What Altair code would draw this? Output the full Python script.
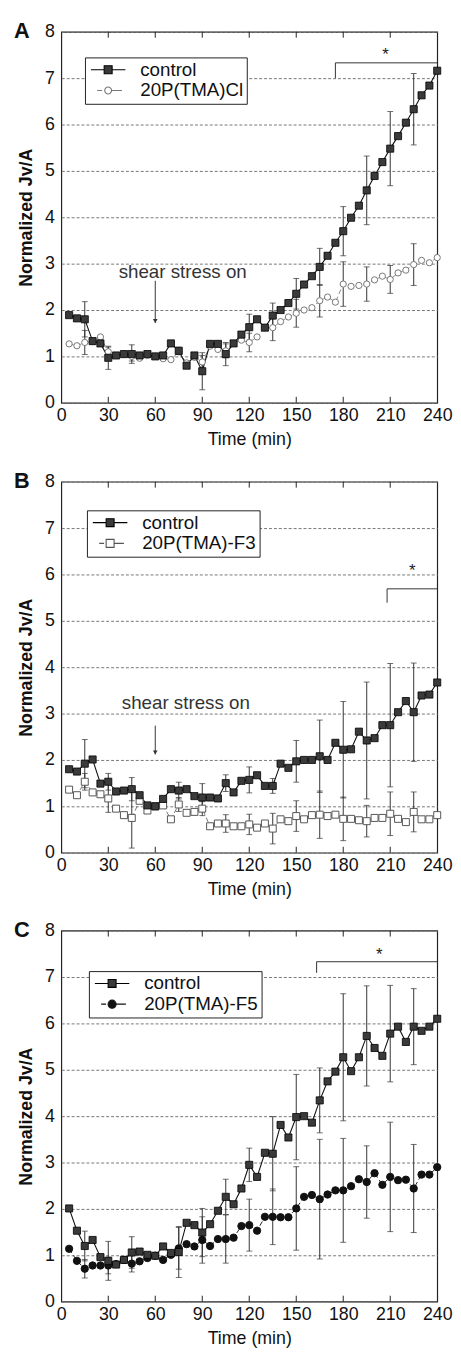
import altair as alt
import pandas as pd

FONT = "Liberation Sans"

time_min = [5, 10, 15, 20, 25, 30, 35, 40, 45, 50, 55, 60, 65, 70, 75, 80,
            85, 90, 95, 100, 105, 110, 115, 120, 125, 130, 135, 140, 145, 150,
            155, 160, 165, 170, 175, 180, 185, 190, 195, 200, 205, 210, 215,
            220, 225, 230, 235, 240]
err_time = [15, 30, 45, 75, 90, 105, 120, 135, 150, 165, 180, 195, 210, 225]
x_ticks = [0, 30, 60, 90, 120, 150, 180, 210, 240]
inner_ticks = [30, 60, 90, 120, 150, 180, 210]
y_ticks = [0, 1, 2, 3, 4, 5, 6, 7, 8]

# Panel A
ctrl_A = [1.89, 1.82, 1.8, 1.33, 1.28, 0.97, 1.02, 1.05, 1.05, 1.02, 1.05, 1.0,
          1.02, 1.28, 1.12, 0.8, 1.02, 0.68, 1.27, 1.27, 1.05, 1.28, 1.47, 1.63,
          1.8, 1.62, 1.88, 2.0, 2.15, 2.35, 2.55, 2.73, 2.93, 3.17, 3.45, 3.7,
          3.99, 4.25, 4.58, 4.89, 5.19, 5.48, 5.75, 6.04, 6.33, 6.63, 6.84, 7.16]
trt_A = [1.27, 1.23, 1.3, 1.32, 1.42, 1.1, 1.02, 1.05, 1.0, 0.96, 1.02, 1.0,
         0.95, 0.93, 1.1, 0.86, 0.98, 0.88, 1.22, 1.15, 1.12, 1.28, 1.35, 1.3,
         1.42, 1.62, 1.62, 1.75, 1.85, 1.93, 2.0, 2.05, 2.2, 2.28, 2.17, 2.56,
         2.51, 2.53, 2.56, 2.65, 2.73, 2.66, 2.8, 2.86, 2.98, 3.07, 3.02, 3.13]
ctrl_err_A = [0.38, 0.25, 0.2, 0.08, 0.4, 0.25, 0.28, 0.27, 0.33, 0.4, 0.53, 0.74, 0.8, 0.77]
trt_err_A = [0.26, 0.1, 0.1, 0.06, 0.14, 0.15, 0.2, 0.28, 0.3, 0.35, 0.48, 0.37, 0.3, 0.45]

# Panel B
ctrl_B = [1.80, 1.75, 1.92, 2.01, 1.49, 1.53, 1.32, 1.34, 1.37, 1.24, 1.02, 1.0,
          1.16, 1.37, 1.34, 1.37, 1.22, 1.19, 1.19, 1.17, 1.5, 1.3, 1.55, 1.57,
          1.67, 1.44, 1.44, 1.92, 1.83, 1.97, 2.0, 2.0, 2.08, 2.0, 2.37, 2.22,
          2.23, 2.61, 2.42, 2.47, 2.75, 2.75, 3.03, 3.27, 3.03, 3.39, 3.41, 3.67]
trt_B = [1.36, 1.24, 1.53, 1.3, 1.26, 1.17, 0.95, 0.81, 0.75, 1.12, 0.91, 1.0,
         1.02, 0.72, 1.04, 0.86, 0.88, 0.95, 0.57, 0.63, 0.63, 0.57, 0.57, 0.61,
         0.54, 0.63, 0.52, 0.72, 0.68, 0.79, 0.72, 0.81, 0.82, 0.79, 0.82, 0.73,
         0.73, 0.7, 0.68, 0.75, 0.75, 0.84, 0.73, 0.66, 0.88, 0.72, 0.72, 0.81]
ctrl_err_B = [0.52, 0.18, 0.25, 0.18, 0.3, 0.18, 0.28, 0.16, 0.45, 0.78, 1.04, 1.26, 1.33, 1.06]
trt_err_B = [0.18, 0.3, 0.65, 0.15, 0.15, 0.19, 0.22, 0.33, 0.33, 0.51, 0.47, 0.34, 0.47, 0.43]

# Panel C
ctrl_C = [2.01, 1.53, 1.2, 1.33, 0.96, 0.88, 0.8, 0.9, 1.06, 1.08, 1.01, 0.99,
          1.19, 1.05, 1.07, 1.7, 1.65, 1.49, 1.67, 1.96, 2.26, 2.1, 2.44, 2.95,
          2.69, 3.21, 3.19, 3.81, 3.54, 3.98, 4.0, 3.86, 4.34, 4.75, 4.96, 5.27,
          4.97, 5.27, 5.73, 5.47, 5.3, 5.78, 5.93, 5.6, 5.93, 5.84, 5.93, 6.1]
trt_C = [1.14, 0.88, 0.71, 0.78, 0.78, 0.78, 0.81, 0.9, 0.82, 0.87, 0.94, 0.99,
         0.9, 1.01, 1.15, 1.24, 1.19, 1.33, 1.2, 1.35, 1.35, 1.38, 1.63, 1.65,
         1.53, 1.83, 1.83, 1.82, 1.82, 2.01, 2.26, 2.3, 2.21, 2.31, 2.4, 2.4,
         2.49, 2.64, 2.58, 2.77, 2.52, 2.69, 2.62, 2.63, 2.44, 2.74, 2.74, 2.9]
ctrl_err_C = [0.32, 0.42, 0.34, 0.55, 0.52, 0.38, 0.36, 0.8, 0.92, 0.7, 1.37, 1.08, 1.04, 0.82]
trt_err_C = [0.2, 0.18, 0.18, 0.45, 0.5, 0.52, 0.56, 0.6, 0.9, 1.29, 1.12, 0.78, 1.18, 0.95]

# annotations (data coordinates)
bracket_A = {"t": [175, 175, 240], "v": [7.0, 7.33, 7.33]}
bracket_B = {"t": [208, 208, 240], "v": [5.39, 5.69, 5.69]}
bracket_C = {"t": [163, 163, 240], "v": [7.09, 7.33, 7.33]}
star_A = {"t": [207], "v": [7.5]}
star_B = {"t": [224], "v": [6.07]}
star_C = {"t": [203], "v": [7.48]}
shear_A = {"t": [77.5], "v": [2.82], "top": [2.63], "tip": [1.72]}
shear_B = {"t": [79.5], "v": [3.23], "top": [2.74], "tip": [2.12]}

W, H = 381, 376

ctrl_path = "M-3,0H-0.69M0.69,0H3M-0.69,-0.69H0.69V0.69H-0.69Z"
circ_path_A = "M-1.9,0H-1.05M-0.6,0A0.6,0.6,0,1,1,0.6,0A0.6,0.6,0,1,1,-0.6,0ZM0.6,0H2.4"
circ_path_C = "M-1.9,0H-1.05M-0.7,0A0.7,0.7,0,1,1,0.7,0A0.7,0.7,0,1,1,-0.7,0ZM0.7,0H2.4"
sq_path = "M-1.9,0H-1.05M-0.69,-0.69H0.69V0.69H-0.69ZM0.69,0H2.4"
LEG_SIZE = 136

xs = alt.Scale(domain=[0, 240], nice=False)
ys = alt.Scale(domain=[0, 8], nice=False)
xaxis = alt.Axis(values=x_ticks, title="Time (min)", grid=False, ticks=False,
                 domain=False, labelPadding=4, titlePadding=6, labelFlush=False)
yaxis = alt.Axis(values=y_ticks, title="Normalized Jv/A", grid=True, ticks=False,
                 domain=False, labelPadding=7, titlePadding=9, labelFlush=False,
                 titleFontWeight="bold", gridDash=[3, 2], gridColor="#777",
                 gridWidth=1)


def X(field="t"):
    return alt.X(f"{field}:Q", scale=xs, axis=xaxis)


def Y(field="v"):
    return alt.Y(f"{field}:Q", scale=ys, axis=yaxis)


def make_panel(letter, trt_name, ctrl, trt, ctrl_err, trt_err, style,
               bracket, star, shear, leg_xy):
    idx = {t: i for i, t in enumerate(time_min)}
    ctrl_df = pd.DataFrame({"t": time_min, "v": ctrl})
    trt_df = pd.DataFrame({"t": time_min, "v": trt})

    rows, caps = [], []
    for vals, errs in ((ctrl, ctrl_err), (trt, trt_err)):
        for t, e in zip(err_time, errs):
            m = vals[idx[t]]
            rows.append({"t": t, "lo": m - e, "hi": m + e})
            caps.append({"t": t, "v": m - e})
            caps.append({"t": t, "v": m + e})
    err_df = pd.DataFrame(rows)
    cap_df = pd.DataFrame(caps)

    layers = []
    layers.append(alt.Chart(err_df).mark_rule(color="#333", strokeWidth=1).encode(
        x=X(), y=Y("lo"), y2="hi:Q"))
    layers.append(alt.Chart(cap_df).mark_tick(orient="horizontal", color="#333",
                                              size=6, thickness=1).encode(x=X(), y=Y()))
    layers.append(alt.Chart(trt_df).mark_line(color=style["line"], strokeWidth=1,
                                              strokeDash=[5, 3]).encode(x=X(), y=Y()))
    layers.append(alt.Chart(ctrl_df).mark_line(color="#111", strokeWidth=1.1).encode(
        x=X(), y=Y()))
    layers.append(alt.Chart(trt_df).mark_point(
        shape=style["shape"], size=style["size"], filled=True, fill=style["fill"],
        stroke=style["stroke"], strokeWidth=1, opacity=1).encode(x=X(), y=Y()))
    layers.append(alt.Chart(ctrl_df).mark_point(
        shape="square", size=52, filled=True, fill="#3a3a3a", stroke="#000",
        strokeWidth=0.8, opacity=1).encode(x=X(), y=Y()))

    br = pd.DataFrame(bracket)
    br["i"] = list(range(len(br)))
    layers.append(alt.Chart(br).mark_line(color="#333", strokeWidth=1).encode(
        x=X(), y=Y(), order="i:Q"))
    layers.append(alt.Chart(pd.DataFrame(star)).mark_text(
        text="*", fontSize=17, font=FONT, color="#222", baseline="middle").encode(
        x=X(), y=Y()))

    if shear is not None:
        sh = pd.DataFrame(shear)
        layers.append(alt.Chart(sh).mark_text(
            text="shear stress on", fontSize=19, font=FONT, color="#333",
            baseline="middle", align="center").encode(x=X(), y=Y()))
        arr = pd.DataFrame({"t": [60], "top": shear["top"], "tip": shear["tip"]})
        layers.append(alt.Chart(arr).mark_rule(color="#333", strokeWidth=1).encode(
            x=X(), y=Y("top"), y2="tip:Q"))
        layers.append(alt.Chart(arr).mark_point(
            shape="triangle-down", size=22, filled=True, color="#333",
            opacity=1, yOffset=-2).encode(x=X(), y=Y("tip")))

    tk = pd.DataFrame({"t": inner_ticks})
    layers.append(alt.Chart(tk).mark_rule(color="#222").encode(
        x=X(), y=alt.value(H), y2=alt.value(H - 6)))
    layers.append(alt.Chart(tk).mark_rule(color="#222").encode(
        x=X(), y=alt.value(0), y2=alt.value(6)))

    names = ["control", trt_name]
    leg_df = pd.DataFrame({"series": names})
    legend = alt.Legend(
        title=None, orient="none", legendX=leg_xy[0], legendY=leg_xy[1],
        direction="vertical", labelFontSize=19, labelFont=FONT,
        labelColor="#111", symbolSize=LEG_SIZE, symbolStrokeWidth=1.1,
        symbolOpacity=1, strokeColor="#222", fillColor="white", padding=3,
        symbolOffset=11, labelOffset=23, rowPadding=1,
        labelExpr="datum.label == 'control' ? '\u00a0control' : datum.label")
    layers.append(alt.Chart(leg_df).mark_point(size=LEG_SIZE, opacity=0).encode(
        shape=alt.Shape("series:N", scale=alt.Scale(domain=names, range=[ctrl_path, style["path"]]), legend=legend),
        fill=alt.Fill("series:N", scale=alt.Scale(domain=names, range=["#3a3a3a", style["fill"]]), legend=legend),
        stroke=alt.Stroke("series:N", scale=alt.Scale(domain=names, range=["#000", style["stroke"]]), legend=legend),
    ))

    return alt.layer(*layers).properties(
        width=W, height=H,
        title=alt.TitleParams(letter, anchor="start", frame="group", dx=-48,
                              dy=24, fontSize=22, fontWeight="bold", font=FONT,
                              color="#111"),
    )


style_A = {"shape": "circle", "size": 40, "fill": "white", "stroke": "#777",
           "line": "#888", "path": circ_path_A}
style_B = {"shape": "square", "size": 50, "fill": "white", "stroke": "#555",
           "line": "#777", "path": sq_path}
style_C = {"shape": "circle", "size": 55, "fill": "#111", "stroke": "#111",
           "line": "#222", "path": circ_path_C}

pA = make_panel("A", "20P(TMA)Cl", ctrl_A, trt_A, ctrl_err_A, trt_err_A, style_A,
                bracket_A, star_A, shear_A, (24, 26))
pB = make_panel("B", "20P(TMA)-F3", ctrl_B, trt_B, ctrl_err_B, trt_err_B, style_B,
                bracket_B, star_B, shear_B, (26, 29))
pC = make_panel("C", "20P(TMA)-F5", ctrl_C, trt_C, ctrl_err_C, trt_err_C, style_C,
                bracket_C, star_C, None, (28, 41))

top = alt.vconcat(pA, pB, spacing=20).resolve_scale(
    shape="independent", fill="independent", stroke="independent")
chart = alt.vconcat(top, pC, spacing=19).resolve_scale(
    shape="independent", fill="independent", stroke="independent"
).properties(
    padding={"left": 5, "top": 2, "right": 0, "bottom": 0}
).configure(font=FONT).configure_view(
    stroke="#222", strokeWidth=1.2
).configure_axis(
    labelFont=FONT, titleFont=FONT, labelFontSize=18, titleFontSize=18,
    labelColor="#111", titleColor="#111"
).configure_axisX(titleFontWeight="normal")

chart.save("out.html", embed_options={"renderer": "svg", "actions": False})
